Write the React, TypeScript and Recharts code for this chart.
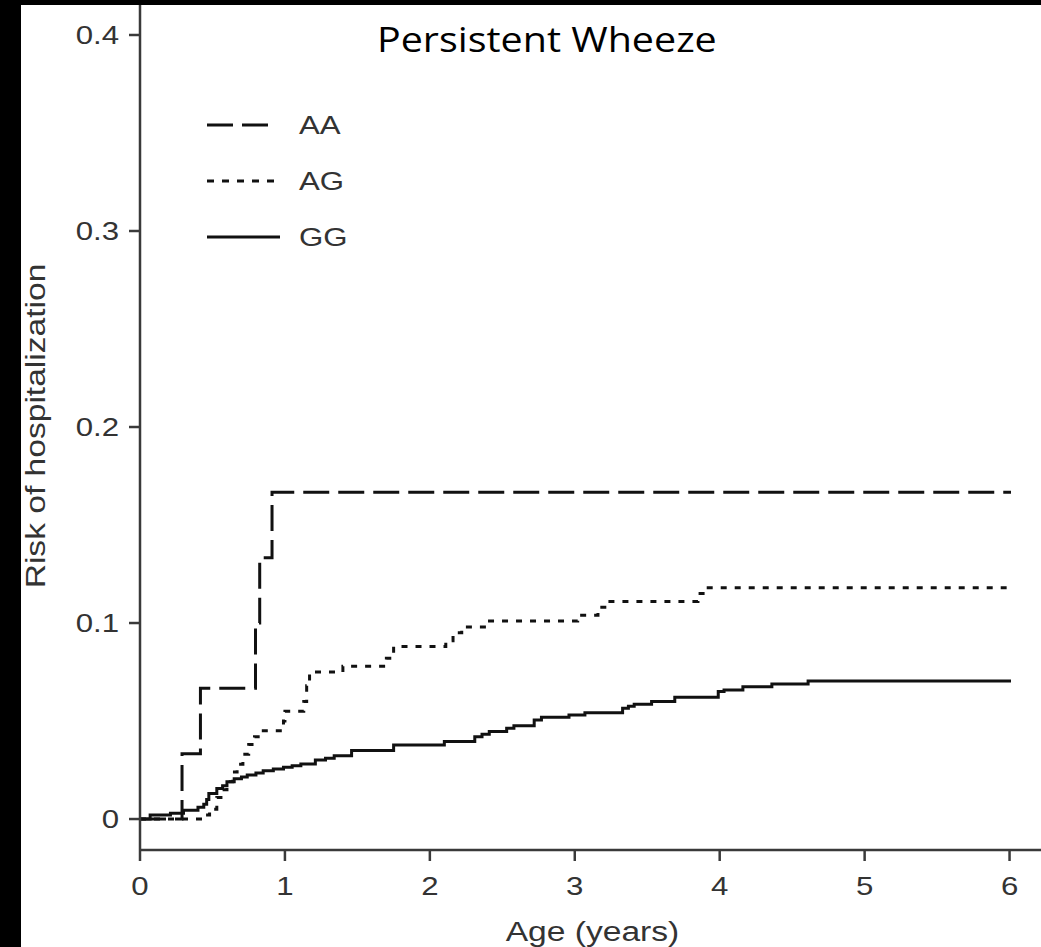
import React from "react";
import { LineChart, Line, XAxis, YAxis, Legend, Label } from "recharts";

// Kaplan-Meier style cumulative risk
const ageAA = [0, 0.29, 0.417, 0.797, 0.826, 0.911, 6.01];
const riskAA = [0, 0.0333, 0.0667, 0.1, 0.1333, 0.1667, 0.1667];

const ageAG = [0, 0.43, 0.48, 0.53, 0.57, 0.6, 0.64, 0.67, 0.71, 0.75, 0.79, 0.84, 0.99, 1.0, 1.13, 1.15, 1.17, 1.4, 1.7, 1.75, 2.11, 2.16, 2.22, 2.4, 3.02, 3.16, 3.22, 3.85, 3.91, 5.98];
const riskAG = [0, 0.002, 0.005, 0.011, 0.015, 0.019, 0.024, 0.028, 0.033, 0.038, 0.042, 0.045, 0.05, 0.055, 0.06, 0.068, 0.075, 0.078, 0.082, 0.088, 0.091, 0.095, 0.098, 0.101, 0.104, 0.108, 0.111, 0.115, 0.118, 0.118];

const ageGG = [0, 0.07, 0.21, 0.3, 0.4, 0.44, 0.46, 0.475, 0.53, 0.57, 0.6, 0.65, 0.7, 0.74, 0.8, 0.85, 0.92, 0.99, 1.05, 1.11, 1.21, 1.28, 1.34, 1.46, 1.75, 2.1, 2.31, 2.36, 2.41, 2.53, 2.58, 2.72, 2.77, 2.96, 3.07, 3.33, 3.37, 3.41, 3.53, 3.69, 3.99, 4.03, 4.16, 4.36, 4.61, 6.01];
const riskGG = [0, 0.002, 0.003, 0.0045, 0.006, 0.0075, 0.01, 0.013, 0.0156, 0.017, 0.019, 0.0205, 0.0215, 0.0225, 0.0235, 0.0246, 0.0255, 0.0264, 0.0272, 0.0281, 0.0301, 0.031, 0.0323, 0.0349, 0.0378, 0.0395, 0.042, 0.0433, 0.0446, 0.0463, 0.0476, 0.0505, 0.0519, 0.0531, 0.0542, 0.0565, 0.0575, 0.0585, 0.06, 0.0621, 0.065, 0.0658, 0.0675, 0.0689, 0.0704, 0.0704];

const xTicks = [0, 1, 2, 3, 4, 5, 6];
const yTicks = [0, 0.1, 0.2, 0.3, 0.4];
const seriesNames = ["AA", "AG", "GG"];

const toPoints = (ages: number[], risks: number[]) =>
  ages.map((age, i) => ({ age, risk: risks[i] }));

const series = [
  { name: seriesNames[0], data: toPoints(ageAA, riskAA), dash: "26 9" },
  { name: seriesNames[1], data: toPoints(ageAG, riskAG), dash: "6 8" },
  { name: seriesNames[2], data: toPoints(ageGG, riskGG), dash: undefined },
];

const FONT = "'Liberation Sans', Arial, sans-serif";
const INK = "#111";
const AXIS = "#3a3a3a";

function YTick({ x, y, payload }: any) {
  const v = payload.value === 0 ? "0" : payload.value.toFixed(1);
  return (
    <g transform={`translate(${x},${y})`}>
      <text transform="scale(1.2,1)" textAnchor="end" dy="0.36em" fontSize={26} fontFamily={FONT} fill="#333">
        {v}
      </text>
    </g>
  );
}

function XTick({ x, y, payload }: any) {
  return (
    <g transform={`translate(${x},${y})`}>
      <text transform="scale(1.2,1)" textAnchor="middle" dy="0.71em" fontSize={26} fontFamily={FONT} fill="#333">
        {payload.value}
      </text>
    </g>
  );
}

function LegendBox() {
  const rowGap = 56;
  return (
    <svg width={170} height={180} style={{ display: "block" }}>
      {series.map((s, i) => {
        const y = 25 + i * rowGap;
        return (
          <g key={s.name}>
            <line x1={0} x2={i === 0 ? 68 : 73} y1={y} y2={y} stroke={INK} strokeWidth={3} strokeDasharray={i === 0 ? "26 9" : i === 1 ? "7 8" : undefined} />
            <g transform={`translate(92,${y})`}>
              <text transform="scale(1.2,1)" dy="0.36em" fontSize={26} fontFamily={FONT} fill="#333">
                {s.name}
              </text>
            </g>
          </g>
        );
      })}
    </svg>
  );
}

export default function App() {
  return (
    <div style={{ position: "absolute", left: 0, top: 0, width: 1041, height: 947, background: "#000", overflow: "hidden" }}>
      <div style={{ position: "absolute", left: 21, top: 5, right: 0, bottom: 0, background: "#fff" }} />
      <div
        style={{
          position: "absolute",
          left: 377,
          top: 22,
          fontFamily: "'Open Sans', sans-serif",
          fontSize: 34,
          lineHeight: "34px",
          color: "#000",
          whiteSpace: "nowrap",
          transform: "scaleX(1.16)",
          transformOrigin: "left top",
        }}
      >
        Persistent Wheeze
      </div>
      <div style={{ position: "absolute", left: 0, top: 0 }}>
        <LineChart width={1041} height={947} margin={{ top: 5, right: 0, bottom: 0, left: 0 }}>
          <XAxis
            type="number"
            dataKey="age"
            domain={[0, 6.217]}
            ticks={xTicks}
            allowDataOverflow
            height={97}
            tickSize={11}
            tickMargin={16}
            tick={<XTick />}
            axisLine={{ stroke: AXIS, strokeWidth: 2.5 }}
            tickLine={{ stroke: AXIS, strokeWidth: 2.5 }}
          >
            <Label
              content={({ viewBox }: any) => (
                <g transform={`translate(${viewBox.x + viewBox.width / 2 + 2},${viewBox.y + 91})`}>
                  <text transform="scale(1.2,1)" textAnchor="middle" fontSize={28} fontFamily={FONT} fill="#333">
                    Age (years)
                  </text>
                </g>
              )}
            />
          </XAxis>
          <YAxis
            type="number"
            dataKey="risk"
            domain={[-0.0158, 0.4153]}
            ticks={yTicks}
            allowDataOverflow
            width={140}
            tickSize={11}
            tickMargin={10}
            tick={<YTick />}
            axisLine={{ stroke: AXIS, strokeWidth: 2.5 }}
            tickLine={{ stroke: AXIS, strokeWidth: 2.5 }}
          >
            <Label
              content={() => (
                <g transform="translate(45,426) rotate(-90)">
                  <text transform="scale(1.2,1)" textAnchor="middle" fontSize={28} fontFamily={FONT} fill="#333">
                    Risk of hospitalization
                  </text>
                </g>
              )}
            />
          </YAxis>
          <Legend
            layout="horizontal"
            verticalAlign="middle"
            align="center"
            content={() => <LegendBox />}
            wrapperStyle={{ position: "absolute", left: 207, top: 100, width: 170, height: 180 }}
          />
          {series.map((s) => (
            <Line
              key={s.name}
              name={s.name}
              data={s.data}
              dataKey="risk"
              type="stepAfter"
              stroke={INK}
              strokeWidth={3}
              strokeDasharray={s.dash}
              dot={false}
              activeDot={false}
              isAnimationActive={false}
            />
          ))}
        </LineChart>
      </div>
    </div>
  );
}
